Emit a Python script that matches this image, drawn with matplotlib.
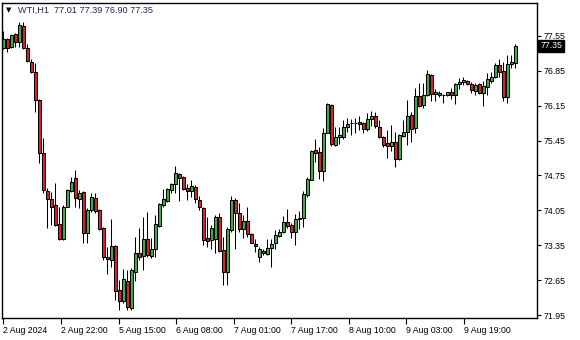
import numpy as np
import matplotlib.pyplot as plt
from matplotlib.patches import Rectangle

# WTI, H1 candles (2 Aug 2024 - 9 Aug 2024)
opens = [77.31, 77.48, 77.32, 77.58, 77.42, 77.75, 77.30, 77.03, 76.83, 76.27,
         75.20, 74.43, 74.27, 74.16, 73.78, 73.47, 74.12, 74.43, 74.69, 74.27,
         74.41, 73.59, 74.06, 74.29, 74.06, 73.69, 73.12, 73.05, 73.34, 72.45,
         72.24, 72.64, 72.10, 72.82, 73.19, 73.13, 73.47, 73.13, 73.27, 73.74,
         74.16, 74.24, 74.45, 74.58, 74.78, 74.71, 74.49, 74.43, 74.51, 74.26,
         74.09, 73.49, 73.46, 73.47, 73.91, 73.25, 72.82, 73.66, 74.26, 73.99,
         73.67, 73.84, 73.58, 73.38, 73.12, 73.24, 73.17, 73.29, 73.39, 73.54,
         73.62, 73.82, 73.76, 73.62, 73.87, 73.89, 74.36, 74.66, 75.26, 75.23,
         74.83, 75.61, 76.17, 75.36, 75.52, 75.53, 75.72, 75.80, 75.80, 75.82,
         75.81, 75.68, 75.88, 75.94, 75.72, 75.52, 75.41, 75.34, 75.43, 75.08,
         75.54, 75.63, 75.96, 75.70, 76.35, 76.17, 76.37, 76.77, 76.38, 76.37,
         76.37, 76.37, 76.43, 76.37, 76.58, 76.62, 76.65, 76.59, 76.45, 76.59,
         76.41, 76.53, 76.65, 76.72, 76.97, 76.85, 76.32, 76.98, 77.01]
highs = [77.65, 77.51, 77.59, 77.60, 77.83, 77.83, 77.39, 77.08, 77.00, 76.28,
         75.50, 74.49, 74.41, 74.59, 74.12, 74.16, 74.47, 74.71, 74.86, 74.45,
         74.43, 74.09, 74.40, 74.39, 74.07, 73.72, 73.31, 73.87, 73.36, 72.65,
         72.87, 72.85, 72.89, 73.52, 73.69, 73.92, 74.02, 73.49, 73.96, 74.19,
         74.47, 74.49, 74.59, 74.94, 74.79, 74.73, 74.58, 74.65, 74.56, 74.34,
         74.11, 73.92, 73.76, 73.96, 74.00, 73.52, 73.72, 74.34, 74.29, 74.19,
         73.96, 74.11, 73.59, 73.47, 73.31, 73.27, 73.47, 73.47, 73.66, 73.67,
         73.94, 74.07, 73.79, 73.98, 74.04, 74.43, 74.71, 75.26, 75.48, 75.32,
         75.70, 76.20, 76.19, 75.72, 75.72, 75.86, 75.90, 75.88, 75.90, 75.94,
         75.83, 76.00, 76.05, 76.03, 75.86, 75.54, 75.66, 75.76, 75.63, 75.58,
         75.86, 76.27, 76.03, 76.50, 76.60, 76.60, 76.87, 76.79, 76.48, 76.45,
         76.38, 76.43, 76.50, 76.60, 76.70, 76.73, 76.67, 76.63, 76.60, 76.60,
         76.65, 76.80, 76.83, 77.00, 77.08, 77.03, 77.17, 77.17, 77.39]
lows = [77.29, 77.23, 77.30, 77.32, 77.32, 77.28, 77.03, 76.81, 76.03, 74.99,
        74.39, 73.69, 73.76, 73.74, 73.46, 73.46, 74.11, 74.41, 74.11, 74.10,
        73.39, 73.39, 74.02, 74.00, 73.66, 73.05, 72.77, 72.92, 72.25, 72.05,
        72.19, 72.06, 72.06, 72.64, 73.05, 72.85, 73.12, 73.09, 73.12, 73.72,
        74.12, 74.22, 74.39, 74.39, 74.24, 74.46, 74.26, 74.31, 74.19, 74.06,
        73.36, 73.31, 73.27, 73.20, 73.22, 72.55, 72.55, 73.62, 73.27, 73.62,
        73.49, 73.52, 73.39, 73.22, 73.02, 73.15, 73.15, 72.91, 73.27, 73.52,
        73.60, 73.69, 73.49, 73.36, 73.67, 73.71, 74.31, 74.65, 75.01, 74.67,
        74.63, 75.60, 75.34, 75.34, 75.38, 75.48, 75.63, 75.56, 75.60, 75.66,
        75.61, 75.65, 75.74, 75.70, 75.50, 75.33, 75.10, 75.25, 74.91, 75.06,
        75.53, 75.36, 75.43, 75.61, 76.13, 76.10, 76.35, 76.25, 76.25, 76.32,
        76.21, 76.35, 76.28, 76.19, 76.48, 76.57, 76.57, 76.40, 76.37, 76.39,
        76.15, 76.37, 76.60, 76.70, 76.73, 76.25, 76.21, 76.90, 76.90]
closes = [77.49, 77.31, 77.57, 77.42, 77.77, 77.30, 77.05, 76.83, 76.27, 75.20,
          74.45, 74.27, 74.12, 73.76, 73.47, 74.12, 74.45, 74.61, 74.29, 74.39,
          73.60, 74.06, 74.31, 74.04, 73.67, 73.11, 73.07, 73.34, 72.44, 72.24,
          72.67, 72.12, 72.85, 73.19, 73.12, 73.47, 73.15, 73.27, 73.78, 74.18,
          74.27, 74.47, 74.58, 74.79, 74.69, 74.47, 74.43, 74.54, 74.27, 74.11,
          73.46, 73.44, 73.69, 73.91, 73.24, 72.82, 73.67, 74.26, 73.99, 73.67,
          73.84, 73.58, 73.40, 73.34, 73.27, 73.19, 73.29, 73.38, 73.56, 73.62,
          73.82, 73.74, 73.62, 73.87, 73.90, 74.38, 74.67, 75.24, 75.20, 74.83,
          75.60, 76.19, 75.38, 75.53, 75.56, 75.72, 75.78, 75.80, 75.80, 75.78,
          75.68, 75.88, 75.94, 75.74, 75.52, 75.36, 75.34, 75.43, 75.08, 75.56,
          75.63, 75.94, 75.68, 76.35, 76.15, 76.37, 76.79, 76.39, 76.42, 76.40,
          76.37, 76.42, 76.37, 76.59, 76.63, 76.67, 76.59, 76.47, 76.57, 76.40,
          76.55, 76.68, 76.73, 76.97, 76.83, 76.33, 76.99, 77.03, 77.35]

time_labels = ['2 Aug 2024', '2 Aug 22:00', '5 Aug 15:00', '6 Aug 08:00', '7 Aug 01:00',
               '7 Aug 17:00', '8 Aug 10:00', '9 Aug 03:00', '9 Aug 19:00']
price_ticks = [71.95, 72.65, 73.35, 74.05, 74.75, 75.45, 76.15, 76.85, 77.55]
symbol = 'WTI,H1'

# styling
bull_color = '#3cb43c'
bear_color = '#e3201c'
font = 'Liberation Sans'

o = np.array(opens)
h = np.array(highs)
l = np.array(lows)
c = np.array(closes)
x = np.arange(len(o))

fig = plt.figure(figsize=(5.8, 3.4), dpi=100)
ax = fig.add_axes([2 / 580, 22 / 340, 535 / 580, 315 / 340])

# фитили
ax.vlines(x, l, h, color='black', linewidth=0.75, zorder=1)

# тела свечей
body_w = 0.7
for i in range(len(x)):
    lo, hi = min(o[i], c[i]), max(o[i], c[i])
    if c[i] > o[i]:
        fc = bull_color
    elif c[i] < o[i]:
        fc = bear_color
    else:
        fc = 'black'
    ax.add_patch(Rectangle((x[i] - body_w / 2, lo), body_w, hi - lo,
                           facecolor=fc, edgecolor='black', linewidth=0.75, zorder=2))

ax.set_xlim(-0.33, 133.43)
ax.set_ylim(71.89, 78.21)

# ось цен справа
ax.yaxis.tick_right()
ax.set_yticks(price_ticks)
ax.set_yticklabels(['%.2f' % p for p in price_ticks], fontsize=6.3, family=font)
ax.tick_params(axis='y', direction='out', length=3, width=0.8, pad=1.5)

# ось времени
tick_pos = np.arange(len(time_labels)) * 14.4
ax.set_xticks(tick_pos)
ax.set_xticklabels(time_labels, fontsize=6.3, family=font, ha='left')
ax.tick_params(axis='x', direction='out', length=4, width=0.8, pad=1.5)

for sp in ax.spines.values():
    sp.set_linewidth(1.0)
    sp.set_color('black')

# текущая цена
ax.text(1.006, c[-1], '%.2f' % c[-1], transform=ax.get_yaxis_transform(),
        ha='left', va='center', fontsize=6.3, family=font, color='white', clip_on=False,
        bbox=dict(boxstyle='square,pad=0.2', fc='black', ec='black'))

# заголовок
title = '%s  %.2f %.2f %.2f %.2f' % (symbol, o[-1], h[-1], l[-1], c[-1])
fig.text(6 / 580, 1 - 10 / 340, '\u25bc', fontsize=5, color='black', va='center', family='DejaVu Sans')
fig.text(18 / 580, 1 - 10 / 340, title, fontsize=6.6, family=font, color='#1c2a5c', va='center')

fig.savefig('out.png', dpi=100)
